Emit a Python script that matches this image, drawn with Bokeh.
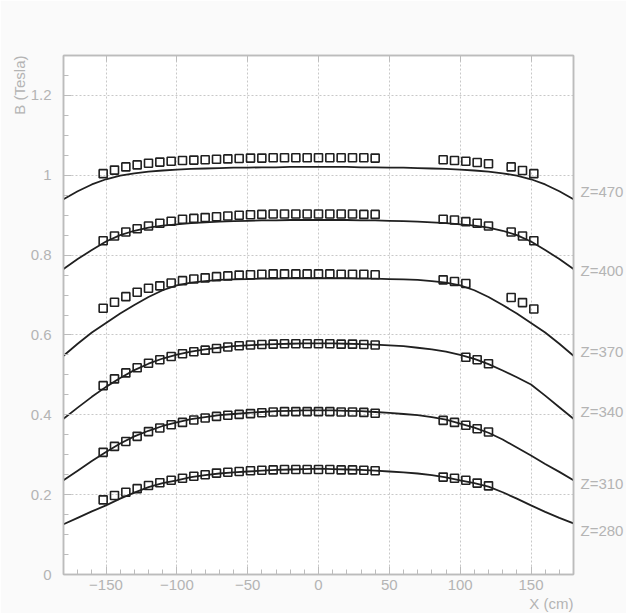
from bokeh.plotting import figure
from bokeh.models import (Range1d, SingleIntervalTicker, FixedTicker, LinearAxis, Title,
                          CustomJSTickFormatter)
from bokeh.embed import file_html
from bokeh.resources import INLINE

# ---- data ----
curve_x = [-180, -170, -160, -150, -140, -130, -120, -110, -100, -90, -80, -70, -60, -50, -40, -30, -20, -10, 0,
           10, 20, 30, 40, 50, 60, 70, 80, 90, 100, 110, 120, 130, 140, 150, 160, 170, 180]
curve_470 = [0.940, 0.960, 0.977, 0.990, 0.999, 1.005, 1.009, 1.012, 1.014, 1.016, 1.017, 1.018, 1.019, 1.019, 1.020, 1.020, 1.021, 1.021, 1.021,
             1.021, 1.021, 1.020, 1.020, 1.019, 1.019, 1.018, 1.017, 1.016, 1.014, 1.012, 1.009, 1.005, 0.999, 0.990, 0.977, 0.960, 0.940]
curve_400 = [0.765, 0.790, 0.813, 0.834, 0.850, 0.861, 0.869, 0.874, 0.877, 0.880, 0.882, 0.884, 0.885, 0.886, 0.887, 0.887, 0.888, 0.888, 0.888,
             0.888, 0.888, 0.887, 0.887, 0.886, 0.885, 0.884, 0.882, 0.880, 0.877, 0.874, 0.869, 0.861, 0.850, 0.834, 0.813, 0.790, 0.765]
curve_370 = [0.548, 0.578, 0.606, 0.630, 0.654, 0.675, 0.695, 0.712, 0.724, 0.731, 0.735, 0.738, 0.739, 0.740, 0.741, 0.741, 0.742, 0.742, 0.742,
             0.742, 0.742, 0.741, 0.741, 0.740, 0.739, 0.738, 0.735, 0.731, 0.724, 0.712, 0.695, 0.675, 0.654, 0.630, 0.606, 0.578, 0.548]
curve_340 = [0.390, 0.418, 0.445, 0.470, 0.492, 0.512, 0.528, 0.541, 0.551, 0.558, 0.564, 0.568, 0.572, 0.574, 0.576, 0.577, 0.578, 0.579, 0.579,
             0.579, 0.578, 0.577, 0.576, 0.574, 0.572, 0.568, 0.564, 0.558, 0.550, 0.540, 0.527, 0.511, 0.494, 0.476, 0.448, 0.419, 0.390]
curve_310 = [0.236, 0.260, 0.284, 0.307, 0.328, 0.346, 0.360, 0.372, 0.381, 0.389, 0.394, 0.399, 0.402, 0.405, 0.407, 0.409, 0.410, 0.411, 0.411,
             0.411, 0.410, 0.409, 0.407, 0.405, 0.402, 0.399, 0.394, 0.388, 0.378, 0.368, 0.355, 0.338, 0.318, 0.298, 0.277, 0.257, 0.236]
curve_280 = [0.126, 0.142, 0.158, 0.173, 0.190, 0.205, 0.219, 0.229, 0.236, 0.244, 0.249, 0.253, 0.256, 0.258, 0.260, 0.262, 0.263, 0.264, 0.265,
             0.264, 0.263, 0.262, 0.260, 0.258, 0.256, 0.253, 0.249, 0.243, 0.236, 0.229, 0.220, 0.206, 0.190, 0.173, 0.157, 0.142, 0.128]

pts_x_left = [-152, -144, -136, -128, -120, -112, -104, -96, -88, -80, -72, -64, -56, -48, -40, -32, -24, -16, -8, 0, 8, 16, 24, 32, 40]

pts_470_x = pts_x_left + [88, 96, 104, 112, 120, 136, 144, 152]
pts_470_y = [1.004, 1.013, 1.021, 1.026, 1.030, 1.033, 1.035, 1.037, 1.038, 1.039, 1.040, 1.041, 1.042, 1.043, 1.043, 1.044, 1.044, 1.044, 1.044, 1.044, 1.044, 1.044, 1.044, 1.044, 1.043,
             1.039, 1.037, 1.035, 1.032, 1.029, 1.021, 1.012, 1.004]

pts_400_x = pts_x_left + [88, 96, 104, 112, 120, 136, 144, 152]
pts_400_y = [0.836, 0.848, 0.858, 0.866, 0.873, 0.880, 0.885, 0.890, 0.892, 0.894, 0.896, 0.898, 0.900, 0.901, 0.902, 0.903, 0.903, 0.903, 0.903, 0.903, 0.903, 0.903, 0.903, 0.902, 0.902,
             0.890, 0.888, 0.884, 0.880, 0.873, 0.858, 0.848, 0.836]

pts_370_x = pts_x_left + [88, 96, 104, 136, 144, 152]
pts_370_y = [0.667, 0.682, 0.696, 0.707, 0.717, 0.723, 0.730, 0.736, 0.740, 0.743, 0.746, 0.748, 0.750, 0.751, 0.752, 0.753, 0.753, 0.753, 0.753, 0.753, 0.753, 0.752, 0.752, 0.752, 0.751,
             0.738, 0.734, 0.729, 0.694, 0.681, 0.665]

pts_340_x = pts_x_left + [104, 112, 120]
pts_340_y = [0.473, 0.490, 0.505, 0.518, 0.529, 0.538, 0.546, 0.553, 0.558, 0.562, 0.566, 0.570, 0.573, 0.575, 0.576, 0.577, 0.578, 0.578, 0.578, 0.578, 0.578, 0.577, 0.577, 0.576, 0.575,
             0.544, 0.538, 0.528]

pts_310_x = pts_x_left + [88, 96, 104, 112, 120]
pts_310_y = [0.306, 0.321, 0.333, 0.346, 0.358, 0.367, 0.375, 0.381, 0.387, 0.392, 0.396, 0.399, 0.401, 0.403, 0.405, 0.407, 0.408, 0.408, 0.408, 0.408, 0.408, 0.407, 0.407, 0.406, 0.404,
             0.386, 0.381, 0.374, 0.365, 0.357]

pts_280_x = pts_x_left + [88, 96, 104, 112, 120]
pts_280_y = [0.187, 0.198, 0.206, 0.215, 0.223, 0.230, 0.236, 0.241, 0.246, 0.250, 0.254, 0.256, 0.258, 0.260, 0.261, 0.262, 0.263, 0.263, 0.263, 0.263, 0.263, 0.262, 0.262, 0.261, 0.260,
             0.244, 0.241, 0.236, 0.229, 0.222]

z_labels = ["Z=470", "Z=400", "Z=370", "Z=340", "Z=310", "Z=280"]
z_label_y = [0.960, 0.762, 0.559, 0.408, 0.229, 0.111]

x_title = "X (cm)"
y_title = "B (Tesla)"

# ---- styling ----
GRAY = "#b4b4b4"
AXC = "#bcbcbc"
FONT = "Liberation Sans"
INK = "#202020"

p = figure(width=626, height=613, output_backend="svg", toolbar_location=None,
           x_range=Range1d(-180, 180), y_range=Range1d(0, 1.3),
           min_border_left=63, min_border_right=53, min_border_top=55, min_border_bottom=39)
p.border_fill_color = "#fafafa"
p.background_fill_color = "white"
p.outline_line_color = AXC
p.outline_line_width = 1.5

xt = SingleIntervalTicker(interval=50, num_minor_ticks=5)
yt = SingleIntervalTicker(interval=0.2, num_minor_ticks=4)
p.xaxis.ticker = xt
p.yaxis.ticker = yt
p.xgrid.ticker = xt
p.ygrid.ticker = yt
p.xaxis.formatter = CustomJSTickFormatter(code="return tick < 0 ? '\u2212' + (-tick) : '' + tick;")
p.yaxis.formatter = CustomJSTickFormatter(code="return '' + parseFloat(tick.toFixed(2));")

for ax in (p.xaxis[0], p.yaxis[0]):
    ax.axis_line_color = AXC
    ax.axis_line_width = 1.5
    ax.major_tick_line_color = AXC
    ax.minor_tick_line_color = AXC
    ax.major_tick_in = 8
    ax.major_tick_out = 0
    ax.minor_tick_in = 5
    ax.minor_tick_out = 0
    ax.major_label_text_color = GRAY
    ax.major_label_text_font = FONT
    ax.major_label_text_font_size = "15px"
p.yaxis.major_label_standoff = 12
p.xaxis.major_label_standoff = 5

# top frame ticks (no labels)
top = LinearAxis(ticker=xt, formatter=CustomJSTickFormatter(code="return '';"),
                 axis_line_color=AXC, axis_line_width=1.5, major_tick_line_color=AXC,
                 major_tick_in=6, major_tick_out=0, minor_tick_in=0, minor_tick_out=0,
                 major_label_standoff=0, major_label_text_font_size="1px")
p.add_layout(top, "above")

# right axis carrying the Z labels
right = LinearAxis(ticker=FixedTicker(ticks=z_label_y, minor_ticks=[]),
                   formatter=CustomJSTickFormatter(args=dict(labels=z_labels),
                                                   code="return labels[index];"),
                   axis_line_color=AXC, axis_line_width=1.5,
                   major_tick_in=0, major_tick_out=0, minor_tick_in=0, minor_tick_out=0,
                   major_label_standoff=7, major_label_text_color=GRAY,
                   major_label_text_font=FONT, major_label_text_font_size="15px")
p.add_layout(right, "right")

for g in (p.xgrid[0], p.ygrid[0]):
    g.grid_line_color = "#c8c8c8"
    g.grid_line_dash = "2 2"
    g.grid_line_width = 1

curves = [curve_470, curve_400, curve_370, curve_340, curve_310, curve_280]
for c in curves:
    p.line(curve_x, c, line_color=INK, line_width=1.8)

pts = [(pts_470_x, pts_470_y), (pts_400_x, pts_400_y), (pts_370_x, pts_370_y),
       (pts_340_x, pts_340_y), (pts_310_x, pts_310_y), (pts_280_x, pts_280_y)]
for xs, ys in pts:
    p.scatter(xs, ys, marker="square", size=8, fill_color=None,
              line_color=INK, line_width=1.6)

p.add_layout(Title(text=x_title, align="right", text_font=FONT, text_font_size="15px",
                   text_font_style="normal", text_color=GRAY, standoff=0), "below")
p.add_layout(Title(text=y_title, align="right", text_font=FONT, text_font_size="15px",
                   text_font_style="normal", text_color=GRAY, standoff=0), "left")

out = file_html(p, INLINE)
open("out.html", "w").write(out)
